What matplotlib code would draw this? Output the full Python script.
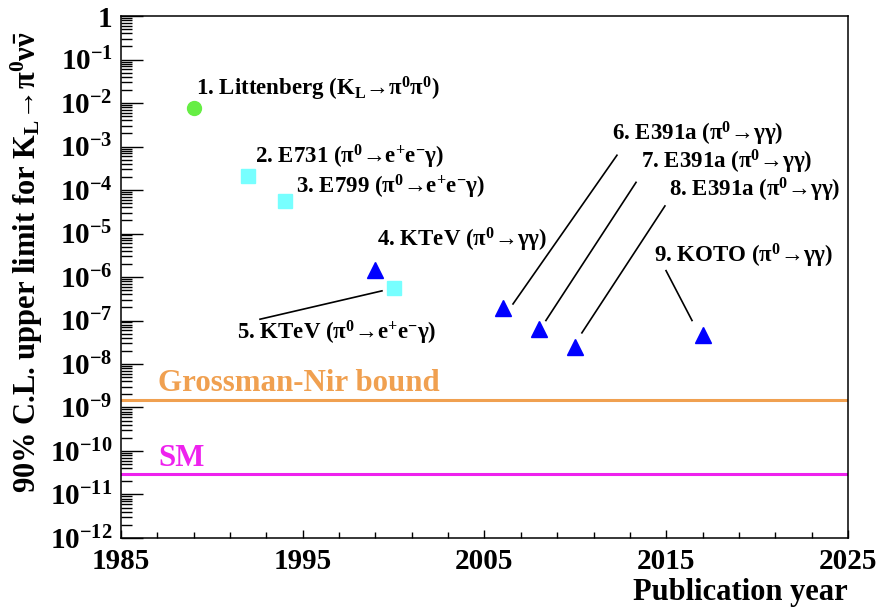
import numpy as np
import matplotlib
matplotlib.use('Agg')
import matplotlib.pyplot as plt
from matplotlib.ticker import FixedLocator, LogLocator, FuncFormatter, NullFormatter

plt.rcParams['font.family'] = ['Liberation Serif', 'DejaVu Serif']
plt.rcParams['font.weight'] = 'bold'
plt.rcParams['mathtext.fontset'] = 'custom'
plt.rcParams['mathtext.rm'] = 'Liberation Serif:bold'
plt.rcParams['mathtext.bf'] = 'Liberation Serif:bold'
plt.rcParams['mathtext.it'] = 'Liberation Serif:bold'

# Experimental upper limits (90% C.L.)
years = [1989, 1992, 1994, 1999, 2000, 2006, 2008, 2010, 2017]
limits = [7.6e-3, 2.1e-4, 5.6e-5, 1.45e-6, 5.7e-7, 1.9e-7, 6.4e-8, 2.5e-8, 4.7e-8]
kinds = ['circle', 'square', 'square', 'triangle', 'square',
         'triangle', 'triangle', 'triangle', 'triangle']

labels = [
    '1. Littenberg (K$_\\mathrm{L}$→π$^0$π$^0$)',
    '2. E731 (π$^0$→e$^{+}$e$^{-}$γ)',
    '3. E799 (π$^0$→e$^{+}$e$^{-}$γ)',
    '4. KTeV (π$^0$→γγ)',
    '5. KTeV (π$^0$→e$^{+}$e$^{-}$γ)',
    '6. E391a (π$^0$→γγ)',
    '7. E391a (π$^0$→γγ)',
    '8. E391a (π$^0$→γγ)',
    '9. KOTO (π$^0$→γγ)',
]
label_x = [1989.13, 1992.37, 1994.63, 1999.09, 1991.38, 2012.0, 2013.6, 2015.15, 2014.33]
label_y = [2.1e-2, 5.8e-4, 1.2e-4, 7.1e-6, 5.2e-8, 1.9e-3, 4.4e-4, 1.0e-4, 3.0e-6]

# leader lines: (x0, y0, x1, y1)
leaders = [
    (1999.36, 4.8e-7, 1992.65, 1.07e-7),
    (2012.29, 6.3e-4, 2006.57, 2.4e-7),
    (2013.34, 1.5e-4, 2008.38, 1.0e-7),
    (2014.93, 4.3e-5, 2010.36, 5.2e-8),
    (2014.99, 1.4e-6, 2016.42, 1.0e-7),
]

grossman_nir = 1.46e-9
sm = 3.0e-11

styles = {
    'circle': dict(marker='o', color='#66ee44', ms=10),
    'square': dict(marker='s', color='#77ffff', ms=10),
    'triangle': dict(marker='^', color='#0000ff', ms=11),
}

fig = plt.figure(figsize=(8.81, 6.09), dpi=100)
ax = fig.add_axes([0.1373, 0.1166, 0.8252, 0.8571])

ax.set_xlim(1985, 2025)
ax.set_yscale('log')
ax.set_ylim(1e-12, 1)

ax.axhline(grossman_nir, color='#f0a050', lw=2.2)
ax.axhline(sm, color='#ee22ee', lw=2.2)

for x, y, k in zip(years, limits, kinds):
    st = styles[k]
    ax.plot(x, y, linestyle='none', marker=st['marker'], color=st['color'],
            ms=st['ms'], mec=st['color'])

for x0, y0, x1, y1 in leaders:
    ax.plot([x0, x1], [y0, y1], color='black', lw=1.2)

for t, x, y in zip(labels, label_x, label_y):
    ax.text(x, y, t, fontsize=16.5, fontweight='bold', va='center', ha='left')

ax.text(1987.04, 3.6e-9, 'Grossman-Nir bound', color='#f0a050', fontsize=22.2,
        fontweight='bold', va='center', ha='left')
ax.text(1987.04, 6.9e-11, 'SM', color='#ee22ee', fontsize=22.2,
        fontweight='bold', va='center', ha='left')

# ticks
ax.xaxis.set_major_locator(FixedLocator([1985, 1995, 2005, 2015, 2025]))
ax.xaxis.set_minor_locator(FixedLocator(np.arange(1985, 2026, 2)))
ax.yaxis.set_major_locator(LogLocator(base=10, numticks=20))
ax.yaxis.set_minor_locator(LogLocator(base=10, subs=np.arange(2, 10), numticks=20))
ax.yaxis.set_minor_formatter(NullFormatter())


def ylab(v, pos):
    e = int(round(np.log10(v)))
    if e == 0:
        return '1'
    return r'$\mathbf{10^{%d}}$' % e


ax.yaxis.set_major_formatter(FuncFormatter(ylab))
ax.tick_params(axis='y', which='major', direction='in', length=16, width=1, labelsize=21, pad=6)
ax.tick_params(axis='y', which='minor', direction='in', length=8, width=1)
ax.tick_params(axis='x', which='major', direction='in', length=6, width=1, labelsize=21, pad=7)
ax.tick_params(axis='x', which='minor', direction='in', length=4.5, width=1)
for lab in ax.get_xticklabels() + ax.get_yticklabels():
    lab.set_fontweight('bold')
for s in ax.spines.values():
    s.set_linewidth(1.1)

ax.set_xlabel('Publication year', fontsize=22, fontweight='bold')
ax.xaxis.set_label_coords(1.0, -0.077)
ax.xaxis.label.set_ha('right')
ax.xaxis.label.set_va('top')
ax.set_ylabel('90% C.L. upper limit for K$_\\mathrm{L}$→π$^0$ν$\\bar{\\nu}$',
              fontsize=22, fontweight='bold')
ax.yaxis.set_label_coords(-0.104, 0.529)

fig.savefig('out.png', dpi=100)
